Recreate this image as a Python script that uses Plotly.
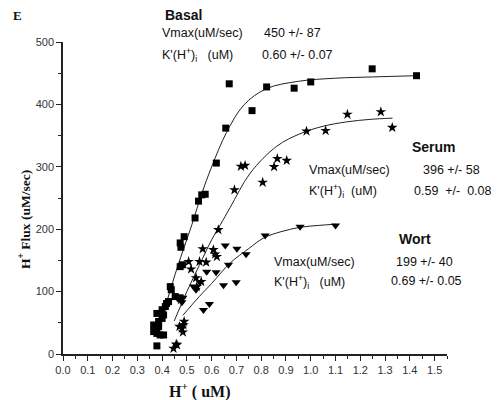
import plotly.graph_objects as go

# ---- data ----
basal_x = [0.379, 0.366, 0.379, 0.392, 0.406, 0.366, 0.386, 0.386, 0.400, 0.406, 0.379, 0.400, 0.413, 0.418,
           0.426, 0.437, 0.433, 0.453, 0.473, 0.482, 0.473, 0.476, 0.473, 0.489, 0.533, 0.547, 0.560, 0.574,
           0.619, 0.657, 0.671, 0.763, 0.822, 0.933, 1.000, 1.248, 1.427]
basal_y = [13, 36, 33, 30.5, 30.5, 46.5, 44, 52, 57, 62.6, 65, 71, 76, 81,
           84, 103, 108, 92, 90, 143, 140, 171, 178, 188, 218, 245, 255, 256,
           306, 362, 433, 390, 428, 426, 436, 457, 446]

serum_x = [0.446, 0.457, 0.460, 0.470, 0.480, 0.484, 0.486, 0.489, 0.476, 0.540, 0.537, 0.558, 0.517,
           0.507, 0.551, 0.578, 0.564, 0.607, 0.614, 0.621, 0.627, 0.692, 0.718, 0.735, 0.806, 0.852,
           0.865, 0.903, 0.983, 1.060, 1.148, 1.283, 1.329]
serum_y = [9, 15.5, 14.5, 44, 41, 35, 46.5, 52, 87, 108, 122, 116, 136,
           148, 148, 147, 168.5, 167, 160, 156, 199, 263, 300.6, 302, 275, 300,
           313, 310, 357, 358, 384, 388, 363]

wort_x = [0.464, 0.484, 0.480, 0.527, 0.537, 0.553, 0.567, 0.591, 0.580, 0.618, 0.648, 0.699, 0.668,
          0.655, 0.702, 0.739, 0.816, 0.957, 1.100]
wort_y = [89, 90, 83, 108, 103, 115, 70.6, 80, 132, 131, 110, 115, 143,
          174, 168.5, 160, 190, 204, 206]

# fitted curves as drawn in the figure
basal_fit_x = [0.42, 0.46, 0.52, 0.56, 0.60, 0.66, 0.73, 0.82, 0.95, 1.10, 1.25, 1.43]
basal_fit_y = [85, 137, 207, 257, 300, 355, 399, 425, 437, 442, 444, 446]

serum_fit_x = [0.449, 0.50, 0.55, 0.60, 0.635, 0.675, 0.756, 0.863, 0.957, 1.05, 1.145, 1.24, 1.33]
serum_fit_y = [53, 100, 142, 183, 207, 235, 290, 333, 353, 365, 372, 376, 378]

wort_fit_x = [0.484, 0.55, 0.60, 0.675, 0.75, 0.81, 0.88, 0.957, 1.03, 1.10]
wort_fit_y = [62, 92, 113, 146, 169, 186, 196, 203, 206, 208]

x_ticks = [round(i * 0.1, 1) for i in range(16)]
y_ticks = [0, 100, 200, 300, 400, 500]

fig = go.Figure()

line_style = dict(color="#222222", width=1)
for fx, fy in [(basal_fit_x, basal_fit_y), (serum_fit_x, serum_fit_y), (wort_fit_x, wort_fit_y)]:
    fig.add_trace(go.Scatter(x=fx, y=fy, mode="lines", line=dict(shape="spline", **line_style),
                             hoverinfo="skip"))

fig.add_trace(go.Scatter(x=basal_x, y=basal_y, mode="markers", name="Basal",
                         marker=dict(symbol="square", size=7, color="black")))
fig.add_trace(go.Scatter(x=serum_x, y=serum_y, mode="markers", name="Serum",
                         marker=dict(symbol="star", size=8, color="black")))
fig.add_trace(go.Scatter(x=wort_x, y=wort_y, mode="markers", name="Wort",
                         marker=dict(symbol="triangle-down", size=8, color="black")))

tickfont = dict(family="Arial, Liberation Sans, sans-serif", size=11, color="#333333")
fig.update_xaxes(range=[0, 1.55], tickvals=x_ticks, ticktext=[f"{v:.1f}" for v in x_ticks],
                 showline=True, linecolor="#222222", linewidth=1.5, mirror=False,
                 ticks="outside", ticklen=5, tickwidth=1.3, tickcolor="#222222",
                 minor=dict(dtick=0.05, tick0=0, ticks="outside", ticklen=3, tickwidth=1, tickcolor="#222222"),
                 showgrid=False, zeroline=False, tickfont=tickfont)
fig.update_yaxes(range=[0, 500], tickvals=y_ticks,
                 showline=True, linecolor="#222222", linewidth=1.5,
                 ticks="outside", ticklen=5, tickwidth=1.3, tickcolor="#222222",
                 minor=dict(dtick=50, tick0=0, ticks="outside", ticklen=3, tickwidth=1, tickcolor="#222222"),
                 showgrid=False, zeroline=False, tickfont=tickfont)

# page has an 8px body margin; figure sized to fit the remaining area
OFF = 8
W, H = 500 - OFF, 400 - OFF
L = 63 - OFF
T = 42 - OFF
B = H - (354 - OFF)
R = W - (447 - OFF)
pw, ph = W - L - R, H - T - B


def px(x):
    return (x - OFF - L) / pw


def py(y):
    return ((H - B) - (y - OFF)) / ph


sans = "Arial, Liberation Sans, sans-serif"
serif = "Times New Roman, Liberation Serif, serif"
annots = [
    ("<b>E</b>", 11, 15, serif, 13),
    ("<b>Basal</b>", 163, 15, sans, 14),
    ("Vmax(uM/sec)", 160, 33, sans, 12.5),
    ("450 +/- 87", 262, 33, sans, 12.5),
    ("K'(H<sup>+</sup>)<sub>i</sub>   (uM)", 160, 55, sans, 12.5),
    ("0.60 +/- 0.07", 260, 55, sans, 12.5),
    ("<b>Serum</b>", 410, 147, sans, 14),
    ("Vmax(uM/sec)", 307, 170, sans, 12.5),
    ("396 +/- 58", 421, 170, sans, 12.5),
    ("K'(H<sup>+</sup>)<sub>i</sub>  (uM)", 307, 191, sans, 12.5),
    ("0.59  +/-  0.08", 412, 191, sans, 12.5),
    ("<b>Wort</b>", 397, 239, sans, 14),
    ("Vmax(uM/sec)", 272, 262, sans, 12.5),
    ("199 +/- 40", 394, 262, sans, 12.5),
    ("K'(H<sup>+</sup>)<sub>i</sub>   (uM)", 272, 282, sans, 12.5),
    ("0.69 +/- 0.05", 389, 281, sans, 12.5),
]
for text, x, y, fam, size in annots:
    fig.add_annotation(text=text, x=px(x), y=py(y), xref="paper", yref="paper",
                       xanchor="left", yanchor="middle", showarrow=False,
                       font=dict(family=fam, size=size, color="#111111"))

# axis titles
fig.add_annotation(text="<b>H<sup>+</sup> Flux (uM/sec)</b>", x=px(24), y=py(220), xref="paper", yref="paper",
                   textangle=-90, showarrow=False, xanchor="center", yanchor="middle",
                   font=dict(family=serif, size=13.5, color="#111111"))
fig.add_annotation(text="<b>H<sup>+</sup> ( uM)</b>", x=px(199), y=py(390), xref="paper", yref="paper",
                   showarrow=False, xanchor="center", yanchor="middle",
                   font=dict(family=serif, size=16, color="#111111"))

fig.update_layout(width=W, height=H, margin=dict(l=L, r=R, t=T, b=B),
                  plot_bgcolor="white", paper_bgcolor="white", showlegend=False)

fig.write_html("out.html")
